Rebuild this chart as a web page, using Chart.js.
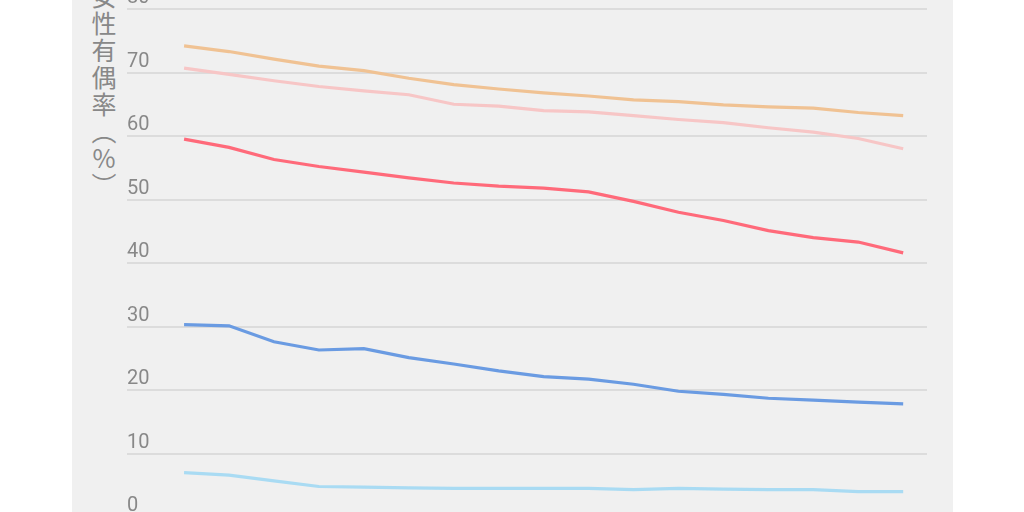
<!DOCTYPE html>
<html>
<head>
<meta charset="utf-8">
<script src="https://cdn.jsdelivr.net/npm/chart.js@4.4.0/dist/chart.umd.min.js"></script>
<style>
html, body {
  margin: 0;
  padding: 0;
  width: 1024px;
  height: 512px;
  overflow: hidden;
  background: #fff;
}
.panel {
  position: absolute;
  left: 72px;
  top: 0;
  width: 881px;
  height: 512px;
  background: #f0f0f0;
}
.y-title {
  position: absolute;
  left: 91px;
  top: -16px;
  writing-mode: vertical-rl;
  text-orientation: upright;
  font-family: "Noto Sans CJK JP", sans-serif;
  font-size: 25px;
  line-height: 1;
  letter-spacing: 2px;
  color: #888;
}
.chart-box {
  position: absolute;
  left: 72px;
  top: -20px;
  width: 881px;
  height: 560px;
}
</style>
</head>
<body>
<div class="panel"></div>
<div class="y-title">女性有偶率（%）</div>
<div class="chart-box"><canvas id="chart"></canvas></div>

<script>
// ---------------- DATA ----------------
const years = [2000, 2001, 2002, 2003, 2004, 2005, 2006, 2007, 2008,
               2009, 2010, 2011, 2012, 2013, 2014, 2015, 2016];

const seriesA = [74.2, 73.3, 72.1, 71.0, 70.3, 69.1, 68.1, 67.4, 66.8,
                 66.3, 65.7, 65.4, 64.9, 64.6, 64.4, 63.7, 63.2];
const seriesB = [70.7, 69.7, 68.7, 67.8, 67.1, 66.5, 65.0, 64.7, 64.0,
                 63.8, 63.2, 62.6, 62.1, 61.3, 60.6, 59.6, 58.0];
const seriesC = [59.5, 58.2, 56.3, 55.2, 54.3, 53.4, 52.6, 52.1, 51.8,
                 51.2, 49.7, 48.0, 46.7, 45.1, 44.0, 43.3, 41.6];
const seriesD = [30.3, 30.1, 27.6, 26.3, 26.5, 25.1, 24.1, 23.0, 22.1,
                 21.7, 20.9, 19.8, 19.3, 18.7, 18.4, 18.1, 17.8];
const seriesE = [7.0, 6.6, 5.7, 4.8, 4.7, 4.6, 4.5, 4.5, 4.5,
                 4.5, 4.3, 4.5, 4.4, 4.3, 4.3, 4.0, 4.0];

const yTicks = [0, 10, 20, 30, 40, 50, 60, 70, 80];

const colors = ["#f0c293", "#f7c6c6", "#ff6a7a", "#6a9be2", "#a9dbf3"];

// ---------------- CHART ----------------
const toPoints = vals => vals.map((v, i) => ({ x: years[i], y: v }));

const datasets = [seriesA, seriesB, seriesC, seriesD, seriesE].map((s, i) => ({
  data: toPoints(s),
  borderColor: colors[i],
  borderWidth: 3.2,
  pointRadius: 0,
  tension: 0,
  fill: false
}));

new Chart(document.getElementById("chart"), {
  type: "line",
  data: { datasets },
  options: {
    responsive: true,
    maintainAspectRatio: false,
    animation: false,
    layout: { padding: { top: 29, left: 55, right: 26, bottom: 23 } },
    plugins: {
      legend: { display: false },
      tooltip: { enabled: false }
    },
    scales: {
      x: {
        type: "linear",
        display: false,
        min: years[0] - 1.27,
        max: years[years.length - 1] + 0.53
      },
      y: {
        min: yTicks[0],
        max: yTicks[yTicks.length - 1],
        afterBuildTicks: axis => { axis.ticks = yTicks.map(v => ({ value: v })); },
        border: { display: false },
        grid: { color: "#dcdcdc", lineWidth: 2, drawTicks: false },
        ticks: {
          mirror: true,
          padding: 0,
          labelOffset: -11,
          color: "#888",
          font: { family: "Roboto", size: 20 }
        }
      }
    }
  }
});
</script>
</body>
</html>
